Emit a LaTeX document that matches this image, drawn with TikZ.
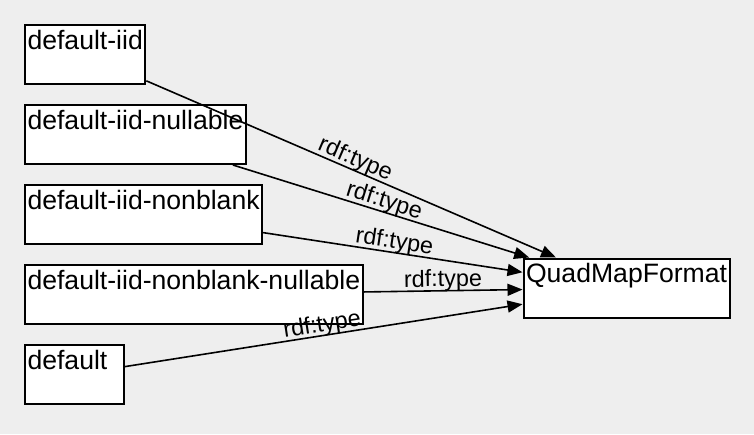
\documentclass[tikz,border=0pt]{standalone}
\usepackage{fontspec}
\setmainfont{Liberation Sans}
\usetikzlibrary{arrows.meta}
\definecolor{bggray}{RGB}{238,238,238}

\begin{document}
\begin{tikzpicture}[x=1pt, y=-1pt,
    box/.style={draw, line width=2pt, fill=white, anchor=north west, inner xsep=2.5pt, inner ysep=3pt, text height=21pt, text depth=32pt, font=\fontsize{26.6}{30}\selectfont},
    rel/.style={line width=1.6pt, -{Triangle[length=15pt,width=12pt]}},
    lbl/.style={midway, sloped, above=-1.5pt, inner sep=0pt, font=\fontsize{23.4}{26}\selectfont}]
    \fill[bggray] (0,0) rectangle (754,434);
    \node[box] (iid) at (24,24) {default-iid};
    \node[box] (iidnull) at (24,104) {default-iid-nullable};
    \node[box] (iidnb) at (24,184) {default-iid-nonblank};
    \node[box] (iidnbnull) at (24,264) {default-iid-nonblank-nullable};
    \node[box, text width=94pt, align=left] (dflt) at (24,344) {default};
    \node[box] (qmf) at (522.5,257.5) {QuadMapFormat};
    \draw[rel] (iid) -- node[lbl] {rdf:type} (qmf);
    \draw[rel] (iidnull) -- node[lbl] {rdf:type} (qmf);
    \draw[rel] (iidnb) -- node[lbl] {rdf:type} (qmf);
    \draw[rel] (iidnbnull) -- node[lbl] {rdf:type} (qmf);
    \draw[rel] (dflt) -- node[lbl] {rdf:type} (qmf);
\end{tikzpicture}
\end{document}
